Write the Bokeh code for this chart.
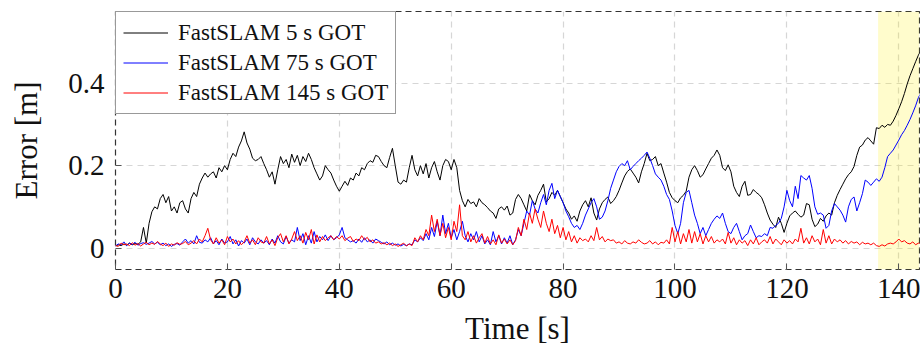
from bokeh.plotting import figure
from bokeh.models import Range1d, BoxAnnotation, Legend, LegendItem, FixedTicker
from bokeh.embed import file_html
from bokeh.resources import INLINE

black = [0.005,0.008,0.006,0.010,0.007,0.012,0.008,0.011,0.009,0.015,
0.050,0.012,0.060,0.088,0.100,0.095,0.120,0.130,0.110,0.125,
0.090,0.100,0.085,0.110,0.115,0.095,0.085,0.120,0.135,0.125,
0.155,0.170,0.182,0.172,0.180,0.185,0.170,0.195,0.185,0.200,
0.190,0.215,0.230,0.222,0.245,0.260,0.282,0.255,0.240,0.218,
0.212,0.215,0.222,0.205,0.190,0.172,0.185,0.155,0.190,0.222,
0.205,0.215,0.195,0.228,0.208,0.225,0.200,0.222,0.210,0.230,
0.215,0.195,0.180,0.165,0.175,0.200,0.190,0.182,0.165,0.150,
0.138,0.150,0.162,0.152,0.170,0.165,0.182,0.175,0.195,0.190,
0.205,0.212,0.208,0.225,0.222,0.210,0.200,0.195,0.220,0.242,
0.200,0.160,0.155,0.165,0.160,0.195,0.225,0.190,0.175,0.200,
0.180,0.205,0.170,0.195,0.210,0.185,0.165,0.200,0.215,0.210,
0.190,0.215,0.195,0.140,0.115,0.100,0.118,0.108,0.112,0.100,
0.120,0.110,0.105,0.098,0.090,0.085,0.072,0.095,0.100,0.092,
0.102,0.080,0.085,0.118,0.130,0.120,0.105,0.090,0.130,0.115,
0.105,0.128,0.140,0.155,0.112,0.120,0.135,0.128,0.140,0.125,
0.110,0.095,0.085,0.070,0.078,0.065,0.090,0.105,0.115,0.100,
0.122,0.085,0.068,0.095,0.110,0.118,0.124,0.108,0.115,0.125,
0.140,0.158,0.175,0.186,0.192,0.182,0.172,0.158,0.185,0.205,
0.230,0.212,0.215,0.222,0.200,0.205,0.182,0.160,0.135,0.122,
0.115,0.110,0.122,0.128,0.138,0.172,0.190,0.200,0.188,0.172,
0.178,0.192,0.205,0.218,0.225,0.238,0.225,0.195,0.188,0.202,
0.185,0.150,0.135,0.125,0.150,0.162,0.128,0.130,0.142,0.135,
0.130,0.122,0.105,0.085,0.068,0.058,0.050,0.075,0.060,0.038,
0.060,0.078,0.085,0.090,0.082,0.075,0.080,0.108,0.105,0.070,
0.052,0.058,0.072,0.065,0.078,0.085,0.080,0.110,0.128,0.142,
0.155,0.168,0.178,0.185,0.198,0.225,0.245,0.250,0.262,0.268,
0.260,0.252,0.292,0.290,0.298,0.293,0.300,0.298,0.308,0.322,
0.338,0.355,0.375,0.398,0.418,0.435,0.452,0.468,0.480]

blue = [0.005,0.010,0.008,0.015,0.006,0.012,0.009,0.014,0.007,0.011,
0.013,0.009,0.012,0.016,0.010,0.014,0.008,0.012,0.006,0.010,
0.004,0.009,0.011,0.007,0.015,0.022,0.012,0.018,0.010,0.030,
0.014,0.012,0.020,0.015,0.025,0.010,0.018,0.008,0.022,0.012,
0.015,0.028,0.010,0.020,0.005,0.018,0.012,0.022,0.008,0.025,
0.015,0.010,0.020,0.012,0.018,0.008,0.022,0.012,0.030,0.015,
0.010,0.028,0.012,0.020,0.015,0.050,0.018,0.035,0.008,0.030,
0.012,0.040,0.015,0.028,0.020,0.032,0.018,0.030,0.020,0.025,
0.032,0.050,0.025,0.020,0.015,0.018,0.012,0.022,0.014,0.025,
0.015,0.020,0.012,0.022,0.018,0.014,0.010,0.015,0.008,0.012,
0.007,0.010,0.005,0.009,0.006,0.010,0.008,0.020,0.015,0.025,
0.018,0.035,0.020,0.050,0.028,0.065,0.030,0.080,0.035,0.060,
0.025,0.045,0.020,0.040,0.065,0.030,0.015,0.035,0.020,0.040,
0.015,0.030,0.010,0.020,0.008,0.040,0.015,0.030,0.010,0.025,
0.012,0.030,0.008,0.020,0.045,0.030,0.060,0.090,0.080,0.115,
0.095,0.085,0.110,0.130,0.105,0.140,0.157,0.120,0.140,0.125,
0.110,0.090,0.076,0.060,0.050,0.055,0.045,0.060,0.080,0.095,
0.110,0.120,0.100,0.070,0.075,0.090,0.115,0.145,0.165,0.185,
0.198,0.205,0.200,0.212,0.190,0.198,0.205,0.212,0.218,0.225,
0.233,0.218,0.200,0.180,0.172,0.165,0.150,0.130,0.118,0.090,
0.055,0.035,0.060,0.110,0.135,0.140,0.110,0.080,0.060,0.035,
0.050,0.030,0.045,0.060,0.070,0.078,0.072,0.085,0.060,0.040,
0.035,0.050,0.060,0.040,0.020,0.030,0.035,0.056,0.040,0.025,
0.030,0.028,0.035,0.030,0.050,0.048,0.055,0.060,0.072,0.100,
0.140,0.115,0.100,0.150,0.120,0.176,0.170,0.165,0.176,0.145,
0.100,0.082,0.085,0.080,0.048,0.055,0.090,0.108,0.100,0.092,
0.080,0.063,0.100,0.118,0.124,0.090,0.110,0.132,0.165,0.160,
0.152,0.160,0.168,0.162,0.172,0.195,0.222,0.230,0.238,0.250,
0.262,0.275,0.285,0.298,0.312,0.328,0.345,0.365,0.378]

red = [0.006,0.004,0.012,0.008,0.010,0.006,0.013,0.007,0.011,0.005,
0.010,0.014,0.008,0.012,0.009,0.016,0.010,0.006,0.012,0.004,
0.010,0.007,0.013,0.009,0.011,0.016,0.008,0.012,0.018,0.010,
0.022,0.015,0.030,0.048,0.020,0.010,0.025,0.012,0.020,0.008,
0.028,0.015,0.022,0.010,0.018,0.008,0.015,0.030,0.012,0.020,
0.008,0.025,0.015,0.012,0.028,0.010,0.020,0.006,0.025,0.035,
0.015,0.030,0.010,0.022,0.040,0.018,0.030,0.012,0.038,0.020,
0.045,0.010,0.032,0.015,0.028,0.018,0.025,0.030,0.020,0.028,
0.022,0.030,0.018,0.024,0.028,0.016,0.022,0.018,0.030,0.020,
0.026,0.015,0.020,0.012,0.015,0.010,0.013,0.008,0.012,0.006,
0.010,0.004,0.008,0.012,0.005,0.010,0.006,0.025,0.015,0.030,
0.020,0.045,0.030,0.080,0.040,0.070,0.030,0.060,0.025,0.050,
0.020,0.065,0.040,0.105,0.030,0.020,0.040,0.015,0.030,0.012,
0.025,0.035,0.012,0.028,0.010,0.020,0.008,0.032,0.012,0.022,
0.010,0.020,0.008,0.018,0.050,0.030,0.070,0.045,0.085,0.060,
0.095,0.070,0.050,0.090,0.060,0.040,0.070,0.035,0.055,0.025,
0.050,0.020,0.040,0.015,0.030,0.012,0.025,0.018,0.022,0.015,
0.030,0.018,0.050,0.020,0.028,0.015,0.022,0.018,0.020,0.012,
0.015,0.010,0.018,0.012,0.010,0.015,0.012,0.020,0.014,0.010,
0.012,0.018,0.010,0.015,0.008,0.014,0.012,0.020,0.010,0.050,
0.015,0.040,0.010,0.035,0.015,0.045,0.012,0.040,0.015,0.035,
0.010,0.030,0.015,0.028,0.012,0.020,0.015,0.022,0.010,0.038,
0.012,0.025,0.008,0.020,0.012,0.018,0.006,0.020,0.010,0.025,
0.008,0.015,0.020,0.012,0.028,0.010,0.022,0.015,0.008,0.020,
0.012,0.018,0.010,0.022,0.015,0.048,0.012,0.025,0.010,0.030,
0.015,0.022,0.008,0.045,0.012,0.030,0.010,0.022,0.015,0.020,
0.012,0.018,0.010,0.016,0.012,0.015,0.008,0.014,0.010,0.012,
0.008,0.012,0.006,0.004,0.008,0.005,0.010,0.012,0.010,0.015,
0.022,0.015,0.018,0.012,0.010,0.015,0.008,0.012,0.010]

dt = 0.5
t_black = [i * dt for i in range(len(black))]
t_blue = [i * dt for i in range(len(blue))]
t_red = [i * dt for i in range(len(red))]

labels = ["FastSLAM 5 s GOT", "FastSLAM 75 s GOT", "FastSLAM 145 s GOT"]
x_ticks = [0, 20, 40, 60, 80, 100, 120, 140]
y_ticks = [0, 0.2, 0.4]
highlight_start = 136.3

SERIF = "Liberation Serif"

p = figure(width=920, height=354, output_backend="svg", toolbar_location=None,
           x_range=Range1d(0, 143.7), y_range=Range1d(-0.052, 0.574),
           min_border_left=115, min_border_right=1, min_border_top=11,
           min_border_bottom=85)

box = BoxAnnotation(left=highlight_start, fill_color="#fff200", fill_alpha=0.2,
                    line_color=None, level="underlay")
p.add_layout(box)

r1 = p.line(t_black, black, line_color="#000000", line_width=1)
r2 = p.line(t_blue, blue, line_color="#0000ff", line_width=1)
r3 = p.line(t_red, red, line_color="#ff0000", line_width=1)

p.outline_line_color = "#333333"
p.outline_line_dash = "6 4"
p.outline_line_width = 1.2

for g in (p.xgrid[0], p.ygrid[0]):
    g.grid_line_color = "#d6d6d6"
    g.grid_line_dash = "6 5"
    g.grid_line_width = 1.2

p.xaxis.ticker = FixedTicker(ticks=x_ticks)
p.yaxis.ticker = FixedTicker(ticks=y_ticks)
p.yaxis.major_label_overrides = {0: "0", 0.2: "0.2", 0.4: "0.4"}

for ax in (p.xaxis[0], p.yaxis[0]):
    ax.axis_line_color = None
    ax.major_tick_in = 6
    ax.major_tick_out = 0
    ax.major_tick_line_color = "#555555"
    ax.minor_tick_line_color = None
    ax.major_label_text_font = SERIF
    ax.major_label_text_font_size = "29px"
    ax.major_label_text_color = "#111111"
    ax.axis_label_text_font = SERIF
    ax.axis_label_text_font_size = "31px"
    ax.axis_label_text_font_style = "normal"
    ax.axis_label_text_color = "#111111"

p.xaxis.axis_label = "Time [s]"
p.yaxis.axis_label = "Error [m]"
p.xaxis.major_label_standoff = 9
p.yaxis.major_label_standoff = 11
p.xaxis.axis_label_standoff = 10
p.yaxis.axis_label_standoff = 21

legend = Legend(items=[LegendItem(label=labels[0], renderers=[r1]),
                       LegendItem(label=labels[1], renderers=[r2]),
                       LegendItem(label=labels[2], renderers=[r3])],
                location="top_left", margin=0, padding=7, spacing=3,
                glyph_width=45, glyph_height=27, label_height=27,
                label_standoff=10,
                label_text_font=SERIF, label_text_font_size="23px",
                label_text_color="#111111",
                border_line_color="#333333", border_line_width=1.3,
                background_fill_color="white", background_fill_alpha=1)
p.add_layout(legend)

open("out.html", "w").write(file_html(p, INLINE))
